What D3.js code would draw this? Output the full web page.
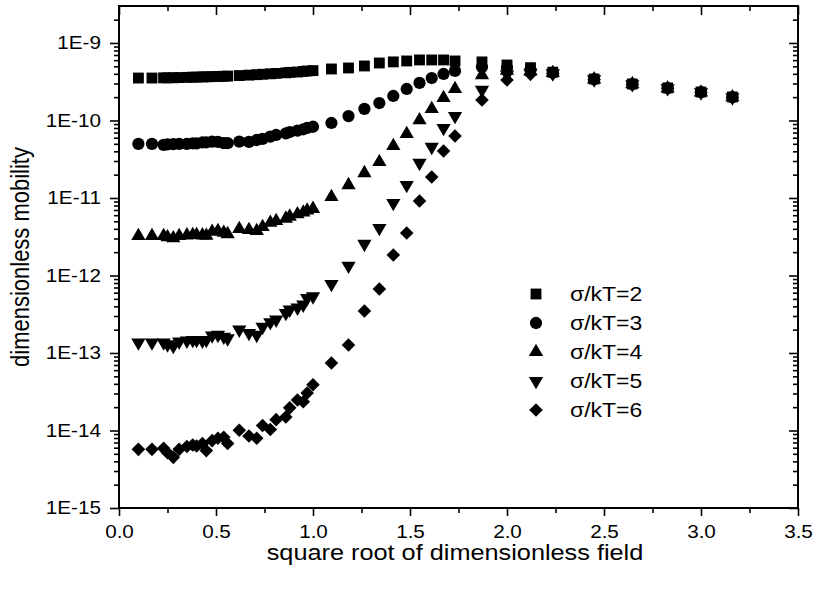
<!DOCTYPE html>
<html>
<head>
<meta charset="utf-8">
<script src="https://cdn.jsdelivr.net/npm/d3@7"></script>
<style>
  body { margin: 0; background: #fff; }
  svg { display: block; font-family: Arial, "Liberation Sans", sans-serif; }
</style>
</head>
<body>
<div id="chart"></div>
<script>
// sqrt of dimensionless field (shared by all series)
var sqrtField = [0.1, 0.17, 0.23, 0.25, 0.28, 0.31, 0.35, 0.38, 0.4, 0.43, 0.45, 0.48, 0.51, 0.54, 0.56,
  0.62, 0.67, 0.71, 0.74, 0.78, 0.81, 0.86, 0.88, 0.92, 0.95, 0.97, 1.0,
  1.095, 1.183, 1.265, 1.342, 1.414, 1.483, 1.549, 1.612, 1.673, 1.732,
  1.871, 2.0, 2.121, 2.236, 2.449, 2.646, 2.828, 3.0, 3.162];

// mobility, sigma/kT = 2
var mob2 = [3.53e-10, 3.53e-10, 3.55e-10, 3.55e-10, 3.56e-10, 3.58e-10, 3.6e-10, 3.62e-10, 3.63e-10, 3.65e-10, 3.66e-10, 3.68e-10, 3.7e-10, 3.72e-10, 3.74e-10,
  3.8e-10, 3.85e-10, 3.9e-10, 3.95e-10, 4.0e-10, 4.05e-10, 4.12e-10, 4.18e-10, 4.22e-10, 4.3e-10, 4.35e-10, 4.4e-10,
  4.62e-10, 4.76e-10, 5.05e-10, 5.52e-10, 5.7e-10, 5.86e-10, 6.04e-10, 6.04e-10, 6.04e-10, 5.86e-10,
  5.7e-10, 5.2e-10, 4.8e-10, 4.2e-10, 3.43e-10, 2.96e-10, 2.63e-10, 2.33e-10, 2.01e-10];
// sigma/kT = 3
var mob3 = [4.98e-11, 4.98e-11, 4.84e-11, 4.9e-11, 4.95e-11, 4.98e-11, 5.0e-11, 5.07e-11, 5.07e-11, 5.2e-11, 5.2e-11, 5.33e-11, 5.3e-11, 5.1e-11, 5.1e-11,
  5.33e-11, 5.3e-11, 5.6e-11, 5.8e-11, 6.2e-11, 6.5e-11, 6.8e-11, 7.1e-11, 7.4e-11, 7.7e-11, 8.0e-11, 8.3e-11,
  9.29e-11, 1.14e-10, 1.41e-10, 1.68e-10, 2.07e-10, 2.55e-10, 3.05e-10, 3.53e-10, 3.98e-10, 4.36e-10,
  4.9e-10, 4.8e-10, 4.5e-10, 4.15e-10, 3.4e-10, 2.95e-10, 2.62e-10, 2.32e-10, 2.0e-10];
// sigma/kT = 4
var mob4 = [3.24e-12, 3.24e-12, 3.24e-12, 3.12e-12, 3.03e-12, 3.24e-12, 3.3e-12, 3.34e-12, 3.34e-12, 3.3e-12, 3.27e-12, 3.67e-12, 3.75e-12, 3.56e-12, 3.42e-12,
  3.98e-12, 3.87e-12, 3.75e-12, 4.24e-12, 4.8e-12, 5.05e-12, 5.42e-12, 5.76e-12, 6.18e-12, 6.5e-12, 6.9e-12, 7.25e-12,
  1.03e-11, 1.47e-11, 2.1e-11, 2.92e-11, 4.69e-11, 6.7e-11, 1.01e-10, 1.41e-10, 1.95e-10, 2.55e-10,
  3.86e-10, 4.4e-10, 4.3e-10, 4.1e-10, 3.4e-10, 2.95e-10, 2.6e-10, 2.3e-10, 2.0e-10];
// sigma/kT = 5
var mob5 = [1.36e-13, 1.36e-13, 1.36e-13, 1.29e-13, 1.23e-13, 1.4e-13, 1.44e-13, 1.47e-13, 1.47e-13, 1.44e-13, 1.47e-13, 1.68e-13, 1.71e-13, 1.62e-13, 1.54e-13,
  2.0e-13, 1.81e-13, 1.71e-13, 2.17e-13, 2.49e-13, 2.69e-13, 3.28e-13, 3.62e-13, 3.84e-13, 4.2e-13, 5.1e-13, 5.37e-13,
  7.76e-13, 1.33e-12, 2.55e-12, 4.1e-12, 8.6e-12, 1.47e-11, 2.83e-11, 4.55e-11, 8.0e-11, 1.14e-10,
  2.48e-10, 3.9e-10, 4.1e-10, 4.05e-10, 3.38e-10, 2.93e-10, 2.6e-10, 2.3e-10, 1.98e-10];
// sigma/kT = 6
var mob6 = [5.71e-15, 5.71e-15, 5.88e-15, 5.17e-15, 4.5e-15, 5.71e-15, 6.2e-15, 6.5e-15, 6.3e-15, 6.8e-15, 5.5e-15, 7.4e-15, 7.95e-15, 8.2e-15, 6.8e-15,
  1.01e-14, 8.5e-15, 7.95e-15, 1.16e-14, 1.03e-14, 1.38e-14, 1.49e-14, 1.96e-14, 2.47e-14, 2.35e-14, 3.05e-14, 3.89e-14,
  7.43e-14, 1.27e-13, 3.48e-13, 6.7e-13, 1.84e-12, 3.53e-12, 9.14e-12, 1.87e-11, 4.04e-11, 6.3e-11,
  1.84e-10, 3.33e-10, 3.95e-10, 4.0e-10, 3.36e-10, 2.92e-10, 2.58e-10, 2.3e-10, 1.98e-10];

var seriesNames = ["σ/kT=2", "σ/kT=3", "σ/kT=4", "σ/kT=5", "σ/kT=6"];
var seriesValues = [mob2, mob3, mob4, mob5, mob6];

var xMajorTicks = [0, 0.5, 1.0, 1.5, 2.0, 2.5, 3.0, 3.5];
var xMinorTicks = [0.25, 0.75, 1.25, 1.75, 2.25, 2.75, 3.25];
var yMajorTicks = [1e-15, 1e-14, 1e-13, 1e-12, 1e-11, 1e-10, 1e-9];

// 図全体のサイズ（window.top と衝突しないよう名前を変える）
var W = 816, H = 590;
var plotL = 119, plotR = 798, plotT = 6, plotB = 508;
// 元の図は文字が横に少し伸びている
var stretch = 1.15;

var svg = d3.select("#chart").append("svg").attr("width", W).attr("height", H);

var xScale = d3.scaleLinear().domain([0, 3.5]).range([plotL, plotR]);
var yScale = d3.scaleLog().domain([1e-15, 3e-9]).range([plotB, plotT]);

// 対数軸の補助目盛り
var yMinorTicks = [];
yMajorTicks.forEach(function (m) {
  for (var k = 2; k <= 9; k++) {
    var v = k * m;
    if (v < 3e-9) yMinorTicks.push(v);
  }
});

function styleAxis(g) {
  g.select(".domain").remove();
  g.selectAll(".tick line").attr("stroke", "#000").attr("stroke-width", 1.6);
  g.selectAll(".tick text").attr("fill", "#000")
    .attr("x", function () { return (+d3.select(this).attr("x") || 0) / stretch; })
    .attr("transform", "scale(" + stretch + ",1)");
  g.attr("font-family", "Arial, 'Liberation Sans', sans-serif").attr("font-size", 18);
}

// 下の軸
svg.append("g").attr("transform", "translate(0," + plotB + ")")
  .call(d3.axisBottom(xScale).tickValues(xMajorTicks).tickSize(8).tickPadding(9).tickFormat(d3.format(".1f")))
  .call(styleAxis);
svg.append("g").attr("transform", "translate(0," + plotB + ")")
  .call(d3.axisBottom(xScale).tickValues(xMinorTicks).tickSize(5).tickFormat(""))
  .call(styleAxis);
// 上の軸（内向き）
svg.append("g").attr("transform", "translate(0," + plotT + ")")
  .call(d3.axisBottom(xScale).tickValues(xMajorTicks).tickSize(9).tickFormat(""))
  .call(styleAxis);
svg.append("g").attr("transform", "translate(0," + plotT + ")")
  .call(d3.axisBottom(xScale).tickValues(xMinorTicks).tickSize(5).tickFormat(""))
  .call(styleAxis);

// 左の軸
svg.append("g").attr("transform", "translate(" + plotL + ",0)")
  .call(d3.axisLeft(yScale).tickValues(yMajorTicks).tickSize(9).tickPadding(9)
    .tickFormat(function (d) { return "1E" + Math.round(Math.log10(d)); }))
  .call(styleAxis);
svg.append("g").attr("transform", "translate(" + plotL + ",0)")
  .call(d3.axisLeft(yScale).tickValues(yMinorTicks).tickSize(5).tickFormat(""))
  .call(styleAxis);
// 右の軸（内向き）
svg.append("g").attr("transform", "translate(" + plotR + ",0)")
  .call(d3.axisLeft(yScale).tickValues(yMajorTicks).tickSize(9).tickFormat(""))
  .call(styleAxis);
svg.append("g").attr("transform", "translate(" + plotR + ",0)")
  .call(d3.axisLeft(yScale).tickValues(yMinorTicks).tickSize(5).tickFormat(""))
  .call(styleAxis);

// 枠
svg.append("rect")
  .attr("x", plotL).attr("y", plotT)
  .attr("width", plotR - plotL).attr("height", plotB - plotT)
  .attr("fill", "none").attr("stroke", "#000").attr("stroke-width", 2);

// マーカー
var symbols = [
  { type: d3.symbolSquare, size: 118, rot: 0 },
  { type: d3.symbolCircle, size: 118, rot: 0 },
  { type: d3.symbolTriangle, size: 88, rot: 0 },
  { type: d3.symbolTriangle, size: 88, rot: 180 },
  { type: d3.symbolSquare, size: 92, rot: 45 }
];

seriesValues.forEach(function (vals, i) {
  var sym = symbols[i];
  var pts = sqrtField.map(function (x, j) { return [x, vals[j]]; });
  svg.append("g").selectAll("path")
    .data(pts)
    .enter()
    .append("path")
    .attr("d", d3.symbol().type(sym.type).size(sym.size))
    .attr("transform", function (d) {
      return "translate(" + xScale(d[0]) + "," + yScale(d[1]) + ") rotate(" + sym.rot + ")";
    })
    .attr("fill", "#000");
});

// 凡例
var legend = svg.append("g");
seriesNames.forEach(function (name, i) {
  var sym = symbols[i];
  var ly = 294 + i * 29;
  legend.append("path")
    .attr("d", d3.symbol().type(sym.type).size(sym.size))
    .attr("transform", "translate(536," + ly + ") rotate(" + sym.rot + ")")
    .attr("fill", "#000");
  legend.append("text")
    .attr("transform", "translate(570," + ly + ") scale(" + stretch + ",1)")
    .attr("dy", "0.35em")
    .attr("font-size", 20)
    .text(name);
});

// 軸タイトル
svg.append("text")
  .attr("transform", "translate(455,560) scale(" + stretch + ",1)")
  .attr("text-anchor", "middle")
  .attr("font-size", 22)
  .text("square root of dimensionless field");

svg.append("text")
  .attr("transform", "translate(29," + ((plotT + plotB) / 2) + ") scale(" + stretch + ",1) rotate(-90)")
  .attr("text-anchor", "middle")
  .attr("font-size", 22)
  .text("dimensionless mobility");
</script>
</body>
</html>
